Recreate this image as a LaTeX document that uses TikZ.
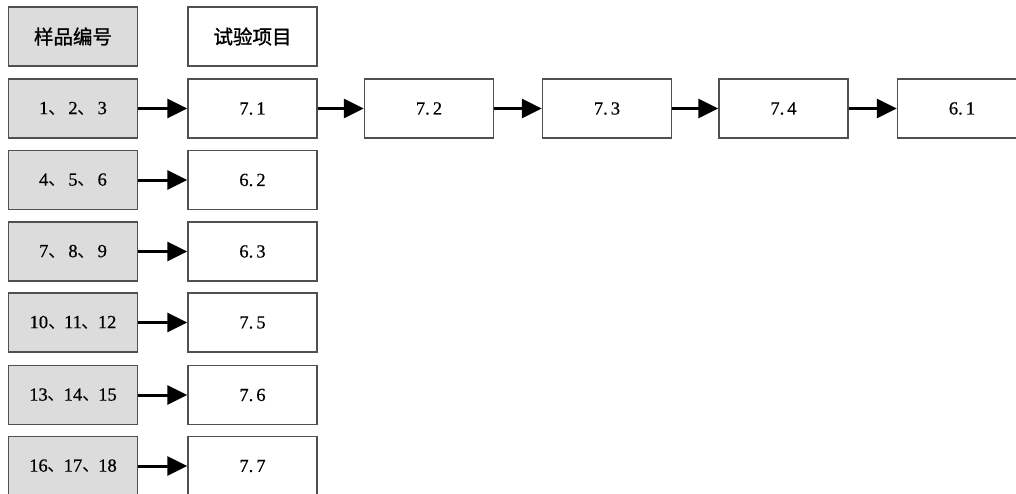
\documentclass[tikz,border=0pt]{standalone}
\usepackage{fontspec}
\setmainfont{Liberation Serif}[FakeBold=0.6]
\newfontfamily\cjk{Noto Sans CJK SC}
\newfontfamily\cjkh{Noto Sans CJK SC}[FakeBold=1.2]
\usetikzlibrary{arrows.meta}
\definecolor{boxgray}{HTML}{DCDCDC}
\definecolor{edge}{HTML}{505050}
\newcommand{\dn}{\makebox[16pt][l]{\cjk 、}}
\newcommand{\dnw}{\makebox[20pt][l]{\cjk 、}}
\begin{document}
\begin{tikzpicture}[x=1pt,y=-1pt,
  box/.style={draw=edge,line width=1.4pt,minimum width=129pt,minimum height=59pt,inner sep=0pt,font=\fontsize{18.5}{21}\selectfont},
  sample/.style={box,fill=boxgray},
  test/.style={box,fill=white},
  head/.style={font=\cjkh\fontsize{19.5}{22}\selectfont},
  arr/.style={line width=3pt,-{Triangle[length=20pt,width=19pt]}}]
\clip (0,0) rectangle (1016,493);
\fill[white] (0,0) rectangle (1016,493);
% header
\node[sample,head] (h1) at (73,36.5) {样品编号};
\node[test,head] (h2) at (252.5,36.5) {试验项目};
% samples
\node[sample] (s1) at (73,108.5) {1\dnw 2\dnw 3};
\node[sample] (s2) at (73,180) {4\dnw 5\dnw 6};
\node[sample] (s3) at (73,251.5) {7\dnw 8\dnw 9};
\node[sample] (s4) at (73,322.5) {10\dn 11\dn 12};
\node[sample] (s5) at (73,395) {13\dn 14\dn 15};
\node[sample] (s6) at (73,466) {16\dn 17\dn 18};
% tests
\node[test] (t1) at (252.5,108.5) {7.\,1};
\node[test] (t2) at (252.5,180) {6.\,2};
\node[test] (t3) at (252.5,251.5) {6.\,3};
\node[test] (t4) at (252.5,322.5) {7.\,5};
\node[test] (t5) at (252.5,395) {7.\,6};
\node[test] (t6) at (252.5,466) {7.\,7};
\node[test] (a2) at (429,108.5) {7.\,2};
\node[test] (a3) at (607,108.5) {7.\,3};
\node[test] (a4) at (783.5,108.5) {7.\,4};
\node[test] (a5) at (962,108.5) {6.\,1};
% arrows
\foreach \i in {1,...,6}{\draw[arr] (s\i) -- (t\i);}
\draw[arr] (t1) -- (a2);
\draw[arr] (a2) -- (a3);
\draw[arr] (a3) -- (a4);
\draw[arr] (a4) -- (a5);
\end{tikzpicture}
\end{document}
